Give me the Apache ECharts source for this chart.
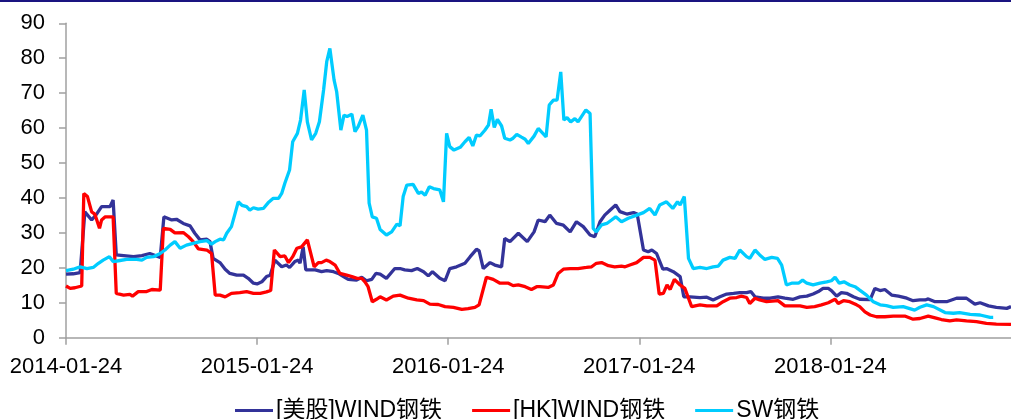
<!DOCTYPE html>
<html>
<head>
<meta charset="utf-8">
<script src="https://cdn.jsdelivr.net/npm/echarts@6/dist/echarts.min.js"></script>
<style>
html,body{margin:0;padding:0;background:#fff;}
#chart{width:1011px;height:419px;}
</style>
</head>
<body>
<div id="chart"></div>
<script>
// x values: days since 2014-01-24
const xTickLabels = ['2014-01-24','2015-01-24','2016-01-24','2017-01-24','2018-01-24'];
const xTickDays = [0, 365, 730, 1095, 1460];
const seriesNames = ['[美股]WIND钢铁','[HK]WIND钢铁','SW钢铁'];

const usData = [[0,18.2],[14,18.3],[27,18.6],[30,18.8],[36,36.0],[49,33.7],[59,35.5],[68,37.5],[84,37.5],[90,39.4],[96,23.7],[110,23.5],[129,23.2],[145,23.5],[160,24.1],[180,23.0],[187,34.6],[202,33.7],[211,33.9],[224,32.7],[237,32.0],[246,29.9],[256,28.0],[269,28.2],[275,27.5],[281,22.7],[294,21.5],[304,19.6],[313,18.4],[326,17.9],[339,17.9],[348,17.0],[358,15.6],[365,15.4],[374,16.0],[383,17.5],[390,17.9],[399,22.2],[412,20.3],[421,20.8],[427,20.1],[437,21.8],[444,22.2],[447,21.3],[453,26.0],[458,19.4],[476,19.4],[488,18.9],[498,19.2],[511,18.9],[520,18.4],[530,17.5],[539,16.7],[555,16.5],[565,17.3],[574,16.3],[584,16.7],[592,18.4],[600,18.2],[612,17.0],[628,19.8],[638,19.8],[647,19.4],[660,19.2],[671,19.8],[683,18.9],[692,17.7],[700,18.9],[714,17.0],[724,16.3],[733,19.8],[746,20.3],[762,21.3],[772,23.2],[784,25.3],[789,24.9],[797,19.8],[810,21.5],[819,20.8],[832,20.3],[838,28.4],[848,27.5],[864,29.9],[881,27.5],[894,30.3],[902,33.7],[915,33.2],[924,35.1],[937,32.7],[950,32.2],[963,30.3],[975,33.2],[988,31.8],[1001,29.4],[1010,28.9],[1020,33.2],[1029,35.1],[1039,36.5],[1050,38.0],[1058,36.1],[1071,35.4],[1084,35.8],[1091,35.4],[1103,25.1],[1112,24.6],[1119,25.1],[1128,24.1],[1140,19.6],[1147,19.8],[1160,18.9],[1173,17.5],[1180,11.7],[1192,11.7],[1211,11.5],[1224,11.6],[1236,10.8],[1249,11.7],[1262,12.5],[1275,12.7],[1287,12.9],[1300,12.9],[1308,13.2],[1316,11.7],[1332,11.3],[1345,11.3],[1360,11.7],[1373,11.3],[1389,11.0],[1402,11.7],[1415,11.9],[1427,12.5],[1437,13.2],[1446,14.1],[1456,14.1],[1462,13.5],[1472,11.9],[1481,12.9],[1491,12.7],[1504,11.7],[1516,11.0],[1536,10.9],[1545,14.1],[1555,13.5],[1564,13.8],[1577,12.2],[1590,11.9],[1606,11.3],[1618,10.6],[1631,10.8],[1641,10.8],[1647,11.1],[1660,10.3],[1682,10.3],[1701,11.3],[1720,11.3],[1736,9.6],[1746,10.0],[1762,9.1],[1777,8.7],[1797,8.4],[1805,8.9]];

const hkData = [[0,14.8],[8,14.1],[17,14.3],[30,14.8],[34,41.3],[41,40.4],[49,36.0],[55,35.4],[64,31.3],[68,33.7],[75,34.6],[90,34.6],[96,12.7],[110,12.2],[122,12.4],[127,11.9],[138,13.2],[154,13.2],[164,13.8],[180,13.6],[186,31.3],[199,31.0],[208,30.0],[224,30.1],[234,28.9],[243,27.5],[253,25.4],[269,25.1],[278,24.1],[285,12.2],[294,12.2],[304,11.7],[316,12.7],[332,12.9],[345,13.2],[358,12.7],[371,12.7],[383,13.1],[391,13.5],[398,25.1],[409,23.2],[418,23.4],[425,21.5],[433,23.2],[441,25.6],[450,26.0],[461,28.0],[474,20.3],[482,21.5],[488,21.5],[497,22.2],[504,21.8],[514,20.8],[523,18.4],[536,17.9],[546,17.5],[556,17.0],[565,17.0],[571,16.0],[577,14.6],[585,10.3],[593,11.0],[600,11.7],[612,10.8],[625,11.9],[638,12.2],[654,11.3],[670,10.8],[683,10.6],[695,9.6],[711,9.5],[724,8.9],[740,8.7],[756,8.1],[768,8.3],[781,8.7],[789,9.4],[803,17.3],[816,16.7],[829,15.6],[845,15.6],[854,14.9],[864,15.1],[877,14.6],[889,13.8],[899,14.6],[905,14.6],[921,14.4],[931,15.1],[940,18.4],[950,19.6],[963,19.8],[978,19.8],[994,20.1],[1004,20.3],[1013,21.3],[1023,21.5],[1036,20.6],[1048,20.3],[1061,20.5],[1068,20.3],[1077,20.8],[1090,21.5],[1103,23.0],[1115,23.0],[1125,22.2],[1133,12.5],[1141,12.7],[1148,15.1],[1154,13.8],[1162,16.7],[1173,15.1],[1182,14.1],[1195,8.9],[1204,9.2],[1211,9.4],[1224,9.1],[1243,9.1],[1255,10.3],[1268,11.3],[1281,11.5],[1290,11.9],[1300,11.5],[1306,9.8],[1316,11.3],[1325,10.8],[1338,10.3],[1360,10.6],[1373,9.1],[1389,9.1],[1402,9.1],[1415,8.7],[1430,8.9],[1443,9.4],[1456,10.0],[1469,11.0],[1475,9.8],[1485,10.6],[1497,10.3],[1510,9.4],[1516,8.9],[1526,7.4],[1536,6.5],[1548,6.0],[1564,6.0],[1580,6.2],[1602,6.2],[1618,5.3],[1631,5.5],[1647,6.2],[1660,5.7],[1672,5.2],[1688,4.8],[1701,5.1],[1720,4.8],[1739,4.6],[1758,4.1],[1777,3.9],[1805,3.8]];

const swData = [[0,19.2],[14,19.6],[27,20.3],[40,19.8],[52,20.1],[62,21.3],[71,22.2],[83,23.2],[90,21.8],[103,22.1],[116,22.4],[135,22.4],[145,22.2],[154,23.0],[167,23.2],[180,24.1],[189,25.1],[199,26.5],[208,27.5],[218,25.6],[230,26.5],[243,27.0],[256,27.5],[269,27.8],[278,26.8],[285,27.5],[294,28.2],[301,28.0],[307,29.9],[316,31.8],[323,35.6],[329,38.9],[336,37.9],[345,37.5],[351,36.5],[358,37.2],[367,36.8],[377,37.0],[386,38.6],[396,39.9],[406,39.9],[412,41.3],[418,44.2],[427,48.0],[433,56.1],[442,58.5],[448,62.3],[455,70.9],[461,61.8],[469,56.6],[477,58.5],[484,61.8],[492,70.9],[498,79.0],[504,82.8],[512,73.8],[517,70.4],[525,59.4],[531,63.7],[537,63.3],[546,64.0],[552,59.0],[558,60.4],[567,63.7],[574,59.4],[579,38.5],[585,34.6],[593,34.2],[600,31.0],[612,29.4],[622,30.3],[632,32.5],[638,32.0],[644,40.4],[651,43.7],[663,43.9],[673,41.3],[679,41.7],[686,40.8],[694,43.2],[702,42.7],[714,42.3],[721,38.9],[727,58.5],[733,54.7],[741,53.7],[753,54.5],[762,56.1],[770,57.3],[777,54.9],[784,58.0],[791,57.8],[800,59.4],[807,60.9],[812,65.4],[818,60.2],[824,62.5],[832,60.6],[838,57.1],[848,56.6],[854,57.1],[861,58.2],[870,57.4],[877,56.8],[883,55.6],[894,57.7],[902,59.9],[905,59.9],[917,57.5],[923,66.6],[931,68.0],[938,68.0],[945,76.1],[951,62.3],[957,63.0],[964,61.8],[972,62.7],[978,61.8],[993,65.2],[1001,64.2],[1007,31.3],[1013,30.3],[1023,32.3],[1033,32.7],[1042,33.7],[1050,34.6],[1061,33.2],[1074,34.2],[1090,35.1],[1103,35.8],[1115,37.0],[1125,35.1],[1134,38.0],[1147,38.9],[1159,37.0],[1168,38.9],[1173,38.0],[1181,40.4],[1189,22.7],[1198,19.8],[1211,20.1],[1224,19.8],[1236,20.3],[1246,20.5],[1255,22.2],[1268,23.0],[1278,22.7],[1287,25.1],[1300,23.2],[1306,22.7],[1316,25.1],[1325,23.7],[1335,22.4],[1348,23.0],[1359,22.7],[1367,20.8],[1376,15.1],[1386,15.6],[1399,15.6],[1407,16.5],[1415,15.6],[1427,15.1],[1440,15.6],[1453,16.0],[1462,16.3],[1469,17.3],[1477,15.6],[1486,16.0],[1497,15.1],[1507,14.6],[1516,13.6],[1529,12.2],[1542,10.3],[1555,9.4],[1567,9.2],[1580,8.7],[1599,8.9],[1621,7.9],[1631,8.7],[1644,9.4],[1657,8.9],[1679,7.2],[1695,7.0],[1707,7.2],[1727,6.7],[1746,6.5],[1765,5.8],[1771,5.8]];

const colors = ['#333399','#ff0000','#00ccff'];
const FONT = "'Liberation Sans', Arial, 'Noto Sans CJK SC', sans-serif";
const axisGray = '#a0a0a0';

const chart = echarts.init(document.getElementById('chart'), null, {renderer:'canvas'});
const datasets = [usData, hkData, swData];
chart.setOption({
  animation: false,
  backgroundColor: '#ffffff',
  graphic: [{type:'rect', left:0, top:0, shape:{width:1011, height:2}, style:{fill:'#1a1480'}}],
  grid: {left: 66, right: 0, top: 23.3, height: 314.4, containLabel: false},
  legend: {
    top: 394, left: 230, icon: 'rect', itemWidth: 38, itemHeight: 3, itemGap: 30,
    textStyle: {fontFamily: FONT, fontSize: 23, color: '#000', padding: [0, 0, 0, -2]},
    data: seriesNames
  },
  xAxis: {
    type: 'value', min: 0, max: 1805, interval: 365,
    axisLine: {show: true, lineStyle: {color: axisGray, width: 1.5}},
    axisTick: {show: true, inside: false, length: 7, customValues: xTickDays, lineStyle: {color: axisGray, width: 1.5}},
    splitLine: {show: false},
    axisLabel: {
      margin: 18, color: '#000', fontFamily: FONT, fontSize: 22,
      customValues: xTickDays,
      formatter: v => xTickLabels[xTickDays.indexOf(Math.round(v))] || ''
    }
  },
  yAxis: {
    type: 'value', min: 0, max: 90, interval: 10,
    axisLine: {show: true, lineStyle: {color: axisGray, width: 1.5}},
    axisTick: {show: true, inside: false, length: 7, lineStyle: {color: axisGray, width: 1.5}},
    splitLine: {show: false},
    axisLabel: {margin: 21, color: '#000', fontFamily: FONT, fontSize: 22}
  },
  series: datasets.map((d, i) => ({
    name: seriesNames[i], type: 'line', data: d, symbol: 'none', showSymbol: false,
    lineStyle: {width: 3.3, color: colors[i]}, itemStyle: {color: colors[i]}
  }))
});
</script>
</body>
</html>
